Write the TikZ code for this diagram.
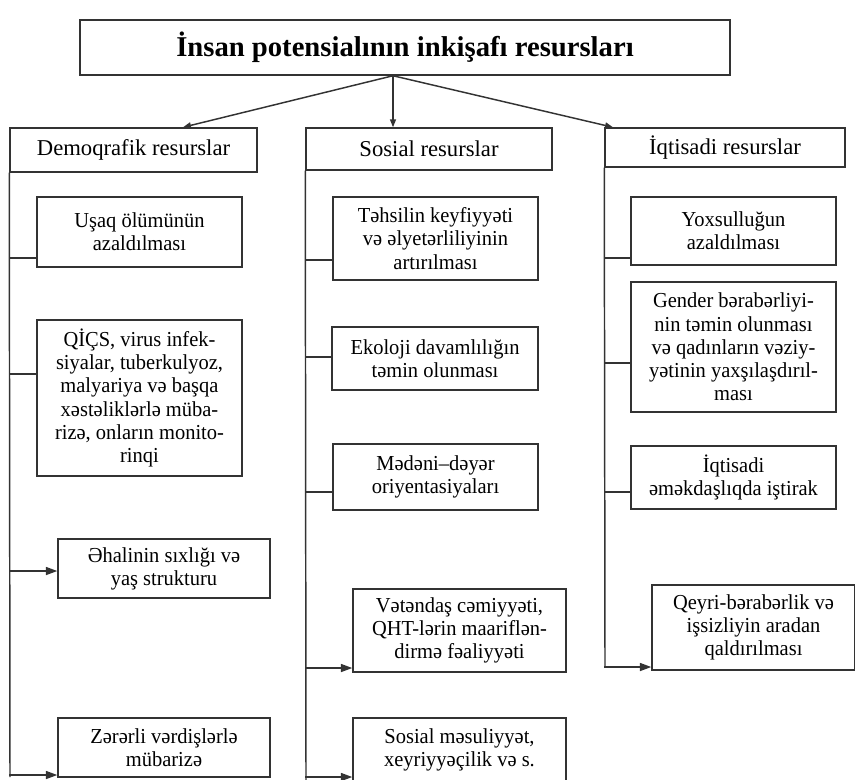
\documentclass[tikz,border=0pt]{standalone}
\usepackage{fontspec}
\setmainfont{Liberation Serif}
\newfontfamily\boxfont[FakeStretch=0.96]{Liberation Serif}
\usetikzlibrary{arrows.meta}
\begin{document}
\begin{tikzpicture}[x=0.75pt,y=-0.75pt,
  box/.style={draw=black!80, line width=1.1pt, align=center, inner sep=0pt, font=\boxfont\fontsize{16}{17.4}\selectfont},
  head/.style={box, font=\fontsize{17}{20}\selectfont},
  titlebox/.style={box, font=\fontsize{21.5}{24}\selectfont\bfseries},
  conn/.style={draw=black!80, line width=1.1pt},
  arr/.style={conn, -{Triangle[length=8.5pt,width=6pt]}},
  tarr/.style={conn, -{Triangle[length=6pt,width=4.5pt]}}
]
\useasboundingbox (0,0) rectangle (855,779);
\clip (0,0) rectangle (855,779);

% title and headers
\node[titlebox, minimum width=487.5pt, minimum height=41.25pt] (title) at (405,47.5) {İnsan potensialının inkişafı resursları};
\node[head, minimum width=185.25pt, minimum height=33pt] (dem) at (133.5,150) {Demoqrafik resurslar};
\node[head, minimum width=184.5pt, minimum height=31.5pt] (sos) at (429,149) {Sosial resurslar};
\node[head, minimum width=180pt, minimum height=29.25pt] (iqt) at (725,147.5) {İqtisadi resurslar};

% left column
\node[box, minimum width=153.75pt, minimum height=52.5pt] (u1) at (139.5,232) {Uşaq ölümünün\\azaldılması};
\node[box, minimum width=153.75pt, minimum height=117pt] (u2) at (139.5,398) {QİÇS, virus infek-\\siyalar, tuberkulyoz,\\malyariya və başqa\\xəstəliklərlə müba-\\rizə, onların monito-\\rinqi};
\node[box, minimum width=159pt, minimum height=44.25pt] (u3) at (164,568.5) {Əhalinin sıxlığı və\\yaş strukturu};
\node[box, minimum width=159pt, minimum height=44.25pt] (u4) at (164,747.5) {Zərərli vərdişlərlə\\mübarizə};

% middle column
\node[box, minimum width=153.75pt, minimum height=62.25pt] (s1) at (435.5,238.5) {Təhsilin keyfiyyəti\\və əlyetərliliyinin\\artırılması};
\node[box, minimum width=154.5pt, minimum height=47.25pt] (s2) at (435,358.5) {Ekoloji davamlılığın\\təmin olunması};
\node[box, minimum width=153.75pt, minimum height=49.5pt] (s3) at (435.5,477) {Mədəni–dəyər\\oriyentasiyaları};
\node[box, minimum width=159.75pt, minimum height=62.25pt] (s4) at (459.5,630.5) {Vətəndaş cəmiyyəti,\\QHT-lərin maariflən-\\dirmə fəaliyyəti};
\node[box, minimum width=159.75pt, minimum height=48pt] (s5) at (459.5,750) {Sosial məsuliyyət,\\xeyriyyəçilik və s.};

% right column
\node[box, minimum width=153.75pt, minimum height=51pt] (r1) at (733.5,231) {Yoxsulluğun\\azaldılması};
\node[box, minimum width=153.75pt, minimum height=97.5pt] (r2) at (733.5,347) {Gender bərabərliyi-\\nin təmin olunması\\və qadınların vəziy-\\yətinin yaxşılaşdırıl-\\ması};
\node[box, minimum width=153.75pt, minimum height=47.25pt] (r3) at (733.5,477.5) {İqtisadi\\əməkdaşlıqda iştirak};
\node[box, minimum width=152.25pt, minimum height=63.75pt] (r4) at (753.5,627.5) {Qeyri-bərabərlik və\\işsizliyin aradan\\qaldırılması};

% arrows from the title
\coordinate (tx) at (393,0);
\coordinate (dx) at (183,0);
\coordinate (ix) at (613,0);
\draw[tarr] (tx |- title.south) -- (dx |- dem.north);
\draw[tarr] (tx |- title.south) -- (tx |- sos.north);
\draw[tarr] (tx |- title.south) -- (ix |- iqt.north);

% trunks
\coordinate (demend) at (10,777);
\coordinate (sosend) at (306,781);
\coordinate (iqtend) at (605,667);
\draw[conn] (dem.south west) -- (demend);
\draw[conn] (sos.south west) -- (sosend);
\draw[conn] (iqt.south west) -- (iqtend);

% branch levels
\coordinate (yu1) at (0,258);
\coordinate (yu2) at (0,374);
\coordinate (yu3) at (0,571);
\coordinate (yu4) at (0,775);
\coordinate (ys1) at (0,260);
\coordinate (ys2) at (0,357);
\coordinate (ys3) at (0,492);
\coordinate (ys4) at (0,668);
\coordinate (ys5) at (0,777);
\coordinate (yr1) at (0,258);
\coordinate (yr2) at (0,363);
\coordinate (yr3) at (0,492);
\coordinate (yr4) at (0,667);

\draw[conn] (dem.south west |- yu1) -- (u1.west |- yu1);
\draw[conn] (dem.south west |- yu2) -- (u2.west |- yu2);
\draw[arr] (dem.south west |- yu3) -- (u3.west |- yu3);
\draw[arr] (dem.south west |- yu4) -- (u4.west |- yu4);

\draw[conn] (sos.south west |- ys1) -- (s1.west |- ys1);
\draw[conn] (sos.south west |- ys2) -- (s2.west |- ys2);
\draw[conn] (sos.south west |- ys3) -- (s3.west |- ys3);
\draw[arr] (sos.south west |- ys4) -- (s4.west |- ys4);
\draw[arr] (sos.south west |- ys5) -- (s5.west |- ys5);

\draw[conn] (iqt.south west |- yr1) -- (r1.west |- yr1);
\draw[conn] (iqt.south west |- yr2) -- (r2.west |- yr2);
\draw[conn] (iqt.south west |- yr3) -- (r3.west |- yr3);
\draw[arr] (iqt.south west |- yr4) -- (r4.west |- yr4);
\end{tikzpicture}
\end{document}
